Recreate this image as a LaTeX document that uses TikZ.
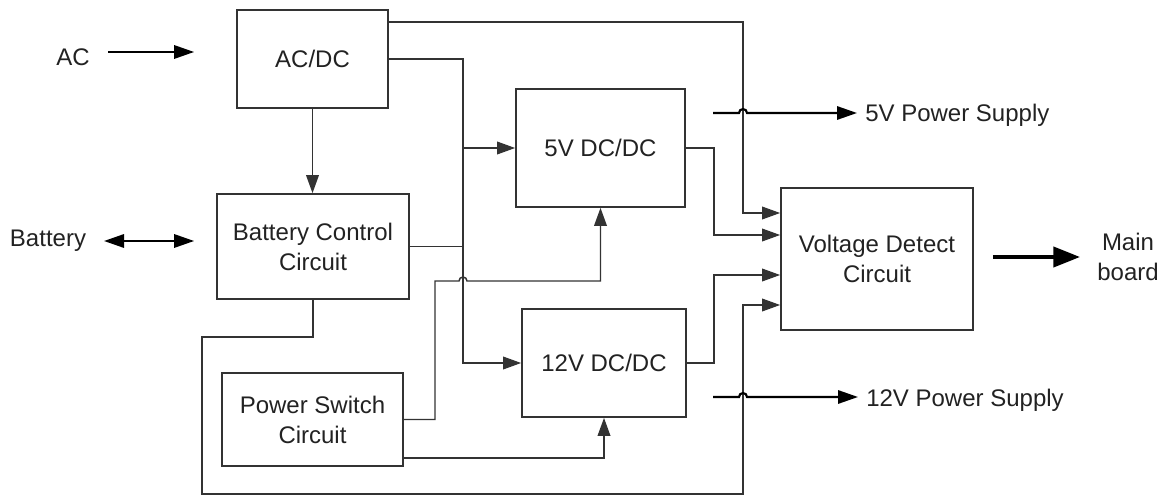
\documentclass[tikz,border=0pt]{standalone}
\usepackage{fontspec}
\setmainfont{Liberation Sans}
\usepackage{xcolor}
\usetikzlibrary{arrows.meta}

\definecolor{wirec}{HTML}{333333}
\definecolor{textc}{HTML}{222222}

\begin{document}
\begin{tikzpicture}[
    x=0.75pt, y=-0.75pt,
    block/.style = {draw=wirec, line width=1.3pt, inner sep=0pt, align=center, text=textc, font=\fontsize{18}{22.5}\selectfont},
    tag/.style = {inner sep=0pt, align=center, text=textc, font=\fontsize{18}{22.5}\selectfont},
    wire/.style = {draw=wirec, line width=1.1pt},
    feed/.style = {wire, -{Triangle[length=13.5pt, width=9.5pt]}},
    supply/.style = {draw=black, line width=1.6pt, -{Triangle[length=15pt, width=10pt]}},
    bigarrow/.style = {draw=black, line width=3pt, -{Triangle[length=20pt, width=15pt]}}
]
\useasboundingbox (0,0) rectangle (1167,495);

\node[block, minimum width=113.25pt, minimum height=73.5pt] (acdc) at (312.5,59) {AC/DC};
\node[block, minimum width=144pt, minimum height=78.75pt] (batt) at (313,246.5) {Battery Control\\Circuit};
\node[block, minimum width=126.75pt, minimum height=88.5pt] (dc5) at (600.5,148) {5V DC/DC};
\node[block, minimum width=123pt, minimum height=81pt] (dc12) at (604,363) {12V DC/DC};
\node[block, minimum width=135.75pt, minimum height=69.75pt] (pwr) at (312.5,419.5) {Power Switch\\Circuit};
\node[block, minimum width=144pt, minimum height=106.5pt] (vdet) at (877,259) {Voltage Detect\\Circuit};

\node[tag, anchor=base] (ac) at (73,66) {AC};
\node[tag, anchor=base] (bat) at (48,247) {Battery};
\node[tag, anchor=base west] (out5) at (865,122) {5V Power Supply};
\node[tag, anchor=base west] (out12) at (866,406) {12V Power Supply};
\node[tag] (mboard) at (1128,257) {Main\\board};

% inputs
\coordinate (acin) at (108,52);
\draw[supply, shorten >=31.5pt] (acin) -- (acin -| acdc.west);
\coordinate (batin) at (104,241);
\draw[supply, {Triangle[length=15pt, width=10pt]}-{Triangle[length=15pt, width=10pt]}, shorten >=16.5pt] (batin) -- (batin -| batt.west);

\draw[feed] (acdc.south) -- (acdc.south |- batt.north);
\draw[feed] (acdc.east |- 0,22) -- (743,22) -- (743,213) -- (vdet.west |- 0,213);
\draw[feed] (acdc.east) -| (463,363) -- (dc12.west);
\coordinate (tap5) at (463,148);
\draw[feed] (tap5) -- (dc5.west);
\draw[wire] (batt.east) -- (batt.east -| tap5);

\draw[feed] (pwr.east) -- (435,419.5) -- (435,281) -- (459,281)
    arc[start angle=180, end angle=0, radius=3pt] -- (dc5.south |- 0,281) -- (dc5.south);
\draw[feed] (pwr.east |- 0,458) -| (dc12.south);
\draw[feed] (batt.south) -- (313,337) -- (202,337) -- (202,494) -- (743,494) -- (743,305) -- (vdet.west |- 0,305);

\draw[feed] (dc5.east) -- (714,148) -- (714,235) -- (vdet.west |- 0,235);
\draw[feed] (dc12.east) -- (714,363) -- (714,275) -- (vdet.west |- 0,275);

% outputs
\coordinate (s5) at (713,113);
\draw[supply, shorten >=6pt] (s5) -- (739,113)
    arc[start angle=180, end angle=0, radius=3pt] -- (out5.west |- s5);
\coordinate (s12) at (713,397);
\draw[supply, shorten >=6pt] (s12) -- (739,397)
    arc[start angle=180, end angle=0, radius=3pt] -- (out12.west |- s12);
\draw[bigarrow, shorten <=14.25pt, shorten >=12.75pt] (vdet.east |- mboard) -- (mboard.west);

\end{tikzpicture}
\end{document}
